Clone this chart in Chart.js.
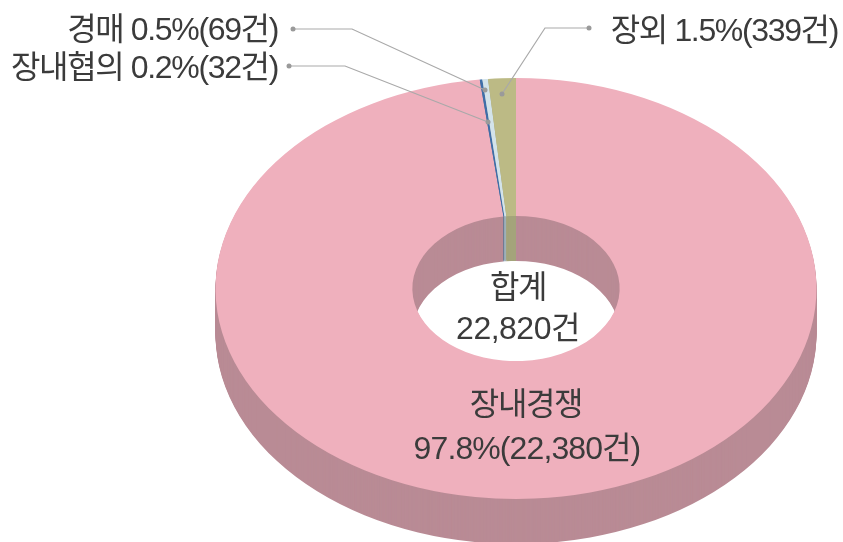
<!DOCTYPE html>
<html lang="ko">
<head>
<meta charset="utf-8">
<style>
  html, body { margin: 0; padding: 0; background: #fff; overflow: hidden; }
  #wrap { width: 843px; height: 542px; }
  #pieChart { filter: blur(0.5px); }
</style>
</head>
<body>
<div id="wrap"><canvas id="pieChart" width="843" height="542"></canvas></div>
<script src="https://cdn.jsdelivr.net/npm/chart.js@4"></script>
<script>
const categories = ['장내경쟁', '장내협의', '경매', '장외'];
const counts = [22380, 32, 69, 339];
const percents = ['97.8', '0.2', '0.5', '1.5'];
const total = 22820;
const topColors = ['#efb0bd', '#3f6ea8', '#d3e3ea', '#bcba85'];
const sideColors = ['#b98b95', '#5c7794', '#9fb0b8', '#a4a47a'];

// 3D 도넛 위치
const CX = 516, CY = 288.5, RX = 300.5, RY = 210.5, DEPTH = 45;
const FONT = '400 32px "Liberation Sans", "Noto Sans CJK KR"';
const INK = '#3b3b3b';

function applyEllipse(ctx, chart, offsetY) {
    const arc = chart.getDatasetMeta(0).data[0];
    const r = arc.outerRadius;
    ctx.translate(CX, CY + offsetY);
    ctx.scale(RX / r, RY / r);
    ctx.translate(-arc.x, -arc.y);
}

function putText(ctx, text, x, y, align, spacing) {
    ctx.font = FONT;
    ctx.fillStyle = INK;
    ctx.textAlign = align;
    ctx.textBaseline = 'middle';
    ctx.letterSpacing = spacing;
    ctx.fillText(text, x, y + 1);
}

function leader(ctx, points) {
    ctx.strokeStyle = '#a9a9a9';
    ctx.lineWidth = 1.2;
    ctx.beginPath();
    points.forEach((p, i) => i ? ctx.lineTo(p[0], p[1]) : ctx.moveTo(p[0], p[1]));
    ctx.stroke();
    ctx.fillStyle = '#9a9a9a';
    [points[0], points[points.length - 1]].forEach(p => {
        ctx.beginPath();
        ctx.arc(p[0], p[1], 2.5, 0, Math.PI * 2);
        ctx.fill();
    });
}

const pie3d = {
    id: 'pie3d',
    // 옆면: 아래쪽부터 한 줄씩 쌓아서 그림
    beforeDatasetsDraw(chart) {
        const ctx = chart.ctx;
        const arcs = chart.getDatasetMeta(0).data;
        for (let d = DEPTH; d >= 1; d--) {
            ctx.save();
            applyEllipse(ctx, chart, d);
            arcs.forEach((arc, i) => {
                const keepFill = arc.options.backgroundColor;
                arc.options.backgroundColor = sideColors[i];
                arc.draw(ctx);
                arc.options.backgroundColor = keepFill;
            });
            ctx.restore();
        }
    },
    beforeDatasetDraw(chart) {
        chart.ctx.save();
        applyEllipse(chart.ctx, chart, 0);
    },
    afterDatasetDraw(chart) {
        chart.ctx.restore();
    },
    afterDraw(chart) {
        const ctx = chart.ctx;
        ctx.save();
        leader(ctx, [[293, 29], [352, 29], [485, 90]]);
        leader(ctx, [[289, 66], [345, 66], [488, 122]]);
        leader(ctx, [[589, 28], [545, 28], [502, 94]]);

        const fmt = n => n.toLocaleString('en-US');
        const sp = '-1.35px';
        putText(ctx, `${categories[2]} ${percents[2]}%(${fmt(counts[2])}건)`, 278, 30, 'right', sp);
        putText(ctx, `${categories[1]} ${percents[1]}%(${fmt(counts[1])}건)`, 278, 68, 'right', sp);
        putText(ctx, `${categories[3]} ${percents[3]}%(${fmt(counts[3])}건)`, 838, 31, 'right', sp);
        putText(ctx, '합계', 518, 288, 'center', sp);
        putText(ctx, `${fmt(total)}건`, 518, 329, 'center', '-0.5px');
        putText(ctx, categories[0], 526, 405, 'center', sp);
        putText(ctx, `${percents[0]}%(${fmt(counts[0])}건)`, 527, 449, 'center', '-0.9px');
        ctx.restore();
    }
};

new Chart(document.getElementById('pieChart'), {
    type: 'doughnut',
    data: {
        labels: categories,
        datasets: [{
            data: counts,
            backgroundColor: topColors,
            borderWidth: 0,
            clip: false
        }]
    },
    options: {
        responsive: false,
        animation: false,
        cutout: '34.5%',
        plugins: { legend: { display: false }, tooltip: { enabled: false } }
    },
    plugins: [pie3d]
});
</script>
</body>
</html>
